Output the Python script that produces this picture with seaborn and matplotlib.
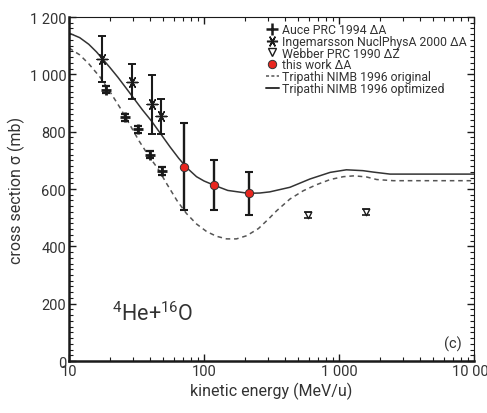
import numpy as np
import matplotlib
matplotlib.use("Agg")
import matplotlib.pyplot as plt
import matplotlib.ticker as mticker
from matplotlib.lines import Line2D
import seaborn as sns

sns.set_style("ticks")
plt.rcParams["font.family"] = ["Roboto", "DejaVu Sans"]
plt.rcParams["mathtext.fontset"] = "custom"
plt.rcParams["mathtext.rm"] = "Roboto"
plt.rcParams["mathtext.it"] = "Roboto:italic"
plt.rcParams["mathtext.bf"] = "Roboto:bold"

# Measured cross sections (MeV/u, mb)
auce_E = [18.7, 26.1, 32.4, 39.6, 48.8]
auce_sigma = [946, 850, 809, 719, 663]
auce_err = [12, 12, 12, 12, 15]

inge_E = [17.5, 29.4, 41.2, 48.0]
inge_sigma = [1053, 974, 895, 853]
inge_err = [80, 61, 102, 60]

webber_E = [586, 1578]
webber_sigma = [509, 519]
webber_err = [10, 10]

this_E = [71.5, 119, 214]
this_sigma = [678, 614, 585]
this_err = [152, 88, 75]

# Tripathi parametrisation curves
orig_E = [10, 12, 14, 17, 20, 24, 28, 33, 39, 46, 53, 63, 74, 88, 105,
          124, 147, 174, 207, 253, 300, 345, 433, 544, 681, 860, 1077,
          1300, 1600, 1904, 2530, 10000]
orig_sigma = [1092, 1068, 1037, 990, 941, 882, 827, 768, 715, 668, 618,
              560, 515, 478, 451, 435, 426, 426, 437, 462, 495, 524, 565,
              594, 615, 633, 643, 646, 642, 633, 629, 629]

opt_E = [10, 12, 14, 16, 18, 20, 23, 26, 30, 35, 41, 48, 56, 65, 75, 88,
         100, 119, 150, 213, 259, 307, 433, 610, 860, 1134, 1504, 1795,
         2387, 10000]
opt_sigma = [1144, 1128, 1105, 1078, 1050, 1025, 990, 957, 918, 876, 836,
             791, 747, 707, 673, 643, 628, 613, 595, 585, 586, 590, 606,
             635, 658, 667, 664, 659, 652, 652]

fig = plt.figure(figsize=(4.87, 4.14), dpi=100)
ax = fig.add_axes([0.1417, 0.1256, 0.8316, 0.8309])

ink = "#1a1a1a"
txt = "#333333"

sns.lineplot(x=orig_E, y=orig_sigma, ax=ax, color="#555555", lw=1.1,
             linestyle=(0, (3, 2.5)), sort=False, estimator=None)
sns.lineplot(x=opt_E, y=opt_sigma, ax=ax, color="#333333", lw=1.1,
             sort=False, estimator=None)

ax.errorbar(auce_E, auce_sigma, yerr=auce_err, fmt="none", ecolor=ink,
            elinewidth=1.6, capsize=3, capthick=1.6, zorder=3)
sns.scatterplot(x=auce_E, y=auce_sigma, ax=ax, marker="+", s=45,
                color=ink, linewidth=2.0, zorder=4)

ax.errorbar(inge_E, inge_sigma, yerr=inge_err, fmt="none", ecolor=ink,
            elinewidth=1.5, capsize=3, capthick=1.4, zorder=3)
sns.scatterplot(x=inge_E, y=inge_sigma, ax=ax, marker=(6, 2, 90), s=60,
                color=ink, linewidth=1.0, zorder=4)

ax.errorbar(webber_E, webber_sigma, yerr=webber_err, fmt="none", ecolor=ink,
            elinewidth=1.2, capsize=3, capthick=1.2, zorder=3)
sns.scatterplot(x=webber_E, y=webber_sigma, ax=ax, marker="v", s=22,
                facecolor="white", edgecolor=ink, linewidth=1.0, zorder=4)

ax.errorbar(this_E, this_sigma, yerr=this_err, fmt="none", ecolor=ink,
            elinewidth=1.7, capsize=3.2, capthick=1.5, zorder=3)
sns.scatterplot(x=this_E, y=this_sigma, ax=ax, marker="o", s=36,
                color="#e8261f", edgecolor="#333333", linewidth=0.7, zorder=5)

ax.set_xscale("log")
ax.set_xlim(10, 10000)
ax.set_ylim(0, 1200)


def spaced(v, pos):
    return f"{int(round(v)):,}".replace(",", " ")


ax.xaxis.set_major_locator(mticker.LogLocator(base=10))
ax.xaxis.set_major_formatter(mticker.FuncFormatter(spaced))
ax.xaxis.set_minor_locator(mticker.LogLocator(base=10, subs=np.arange(2, 10)))
ax.xaxis.set_minor_formatter(mticker.NullFormatter())
ax.yaxis.set_major_locator(mticker.MultipleLocator(200))
ax.yaxis.set_minor_locator(mticker.MultipleLocator(20))
ax.yaxis.set_major_formatter(mticker.FuncFormatter(spaced))

ax.tick_params(which="both", direction="in", top=True, right=True,
               colors=ink, labelsize=10.5, labelcolor=txt)
ax.tick_params(which="major", length=5, width=1.0, pad=2)
ax.tick_params(which="minor", length=3, width=0.8)
for side in ["left", "bottom"]:
    ax.spines[side].set_linewidth(1.8)
for side in ["top", "right"]:
    ax.spines[side].set_linewidth(0.8)
for s in ax.spines.values():
    s.set_color(ink)

ax.set_xlabel("kinetic energy (MeV/u)", fontsize=11.5, color=txt, labelpad=3)
ax.set_ylabel("cross section σ (mb)", fontsize=11.5, color=txt, labelpad=3)

ax.text(0.107, 0.105, r"$^{4}$He+$^{16}$O", transform=ax.transAxes,
        fontsize=15.5, color=txt, ha="left", va="bottom")
ax.text(0.97, 0.03, "(c)", transform=ax.transAxes, fontsize=10.5,
        color=txt, ha="right", va="bottom")

handles = [
    Line2D([], [], ls="none", marker="+", ms=8, mew=1.8, color=ink),
    Line2D([], [], ls="none", marker=(6, 2, 90), ms=8, mew=1.1, color=ink),
    Line2D([], [], ls="none", marker="v", ms=6, mfc="white", mec=ink, mew=1.0),
    Line2D([], [], ls="none", marker="o", ms=6, mfc="#e8261f", mec="#333333", mew=0.7),
    Line2D([], [], color="#555555", lw=1.1, ls=(0, (2, 1.5))),
    Line2D([], [], color="#333333", lw=1.4),
]
labels = ["Auce PRC 1994 ΔA", "Ingemarsson NuclPhysA 2000 ΔA",
          "Webber PRC 1990 ΔZ", "this work ΔA",
          "Tripathi NIMB 1996 original", "Tripathi NIMB 1996 optimized"]
leg = ax.legend(handles, labels, loc="upper right",
                bbox_to_anchor=(467 / 487, 1 - 24 / 414),
                bbox_transform=fig.transFigure,
                frameon=False, fontsize=8.8, handlelength=1.0,
                handletextpad=0.3, labelspacing=-0.1,
                borderaxespad=0, borderpad=0)
for t in leg.get_texts():
    t.set_color(txt)

fig.savefig("out.png", dpi=100)
